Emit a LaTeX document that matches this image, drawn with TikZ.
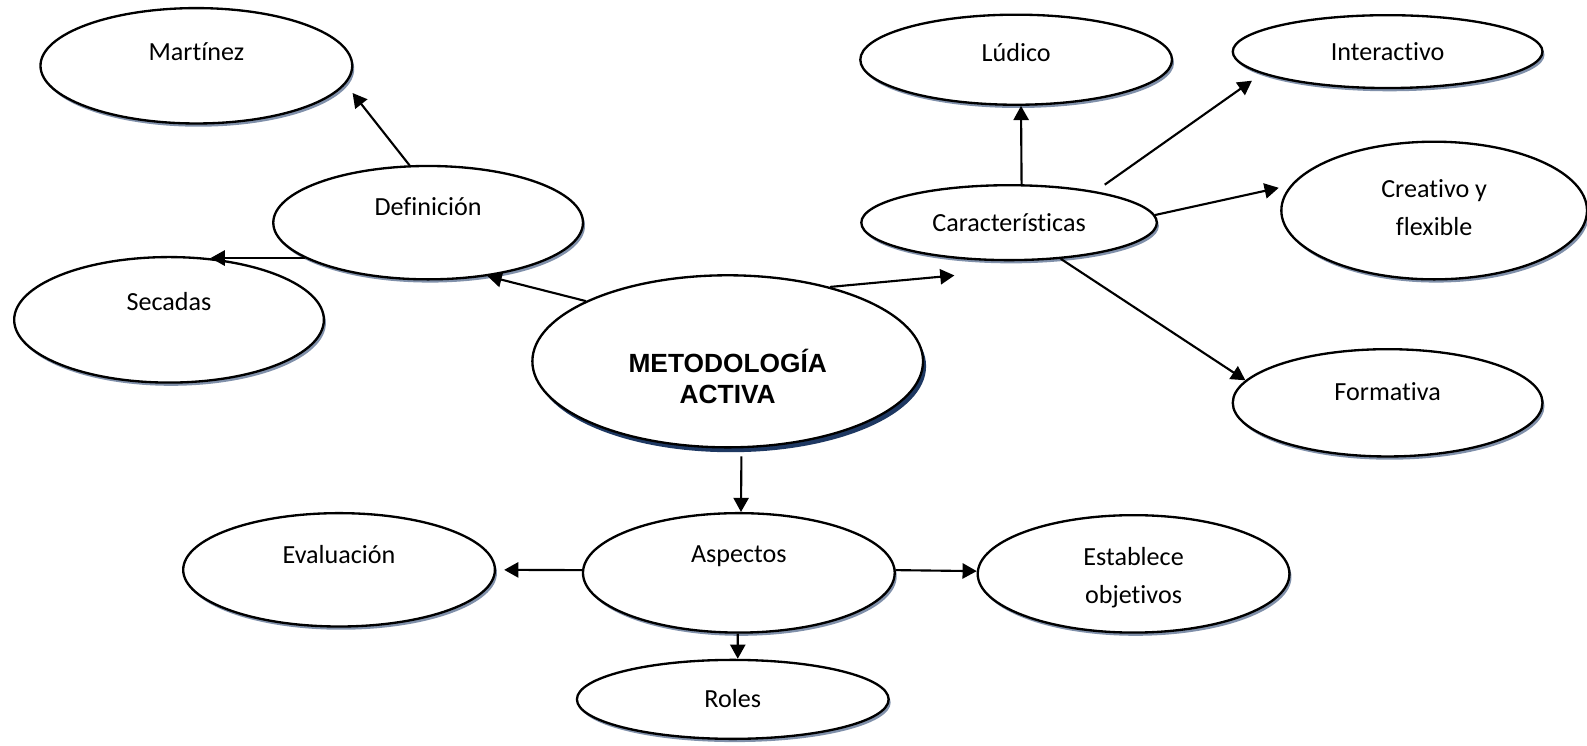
\documentclass[tikz,border=0pt]{standalone}
\usepackage{fontspec}
\setmainfont{Carlito}[Ligatures={NoCommon}]
\newfontfamily\arialfont{Liberation Sans}
\usetikzlibrary{shapes.geometric, arrows.meta, shadows, calc}
\definecolor{shadowc}{RGB}{128,144,170}
\definecolor{shadowd}{RGB}{30,56,98}
\begin{document}
\begin{tikzpicture}[x=0.5pt, y=-0.5pt,
  bubbase/.style={ellipse, draw=black, line width=1.15pt, fill=white, inner sep=0pt},
  bub/.style={bubbase, drop shadow={shadow xshift=1pt, shadow yshift=-1.6pt, fill=shadowc, opacity=1}},
  bigbub/.style={bubbase, drop shadow={shadow xshift=1.5pt, shadow yshift=-2.4pt, fill=shadowd, opacity=1}},
  lbl/.style={font=\fontsize{12.9}{19}\selectfont, align=center, inner sep=0pt},
  biglbl/.style={font=\arialfont\bfseries\fontsize{13}{15.5}\selectfont, align=center, inner sep=0pt},
  arr/.style={line width=1.05pt, -{Triangle[length=7pt,width=7.5pt]}}
]
\useasboundingbox (0,0) rectangle (1568,737);

% nodes
\node[bub, minimum width=154pt, minimum height=57pt, label={[lbl,yshift=7pt]center:Martínez}] (mar) at (194,65) {};
\node[bub, minimum width=153pt, minimum height=56pt, label={[lbl,yshift=8pt]center:Definición}] (def) at (423,220) {};
\node[bub, minimum width=153pt, minimum height=62pt, label={[lbl,yshift=9pt]center:Secadas}] (sec) at (167,316) {};
\node[bigbub, minimum width=193pt, minimum height=85pt, label={[biglbl,yshift=-7.5pt]center:{METODOLOGÍA\\ACTIVA}}] (met) at (719,357) {};
\node[bub, minimum width=146pt, minimum height=37pt, label={[lbl]center:Características}] (car) at (997,220) {};
\node[bub, minimum width=154pt, minimum height=44.5pt, label={[lbl,yshift=3.5pt]center:Lúdico}] (lud) at (1004,59) {};
\node[bub, minimum width=153pt, minimum height=36pt, label={[lbl]center:Interactivo}] (int) at (1371,51) {};
\node[bub, minimum width=151pt, minimum height=68pt, label={[lbl,yshift=1.5pt]center:{Creativo y\\flexible}}] (cre) at (1417,208) {};
\node[bub, minimum width=153pt, minimum height=53pt, label={[lbl,yshift=5.5pt]center:Formativa}] (form) at (1371,398) {};
\node[bub, minimum width=154pt, minimum height=59pt, label={[lbl,yshift=8pt]center:Aspectos}] (asp) at (730,566) {};
\node[bub, minimum width=154pt, minimum height=39pt, label={[lbl,yshift=0.5pt]center:Roles}] (rol) at (724,691) {};
\node[bub, minimum width=154pt, minimum height=56pt, label={[lbl,yshift=7.5pt]center:Evaluación}] (eva) at (335,563) {};
\node[bub, minimum width=154pt, minimum height=58pt, label={[lbl,yshift=-2pt]center:{Establece\\objetivos}}] (est) at (1120,567) {};

\coordinate (cartip) at ($(car.south)+(-54,14)$);

% connectors
\draw[arr, shorten >=5.6pt] (def.108) -- (mar.-7);
\draw[arr] (def.196) -- (sec.56 |- def.196);
\draw[arr] (met.157) -- (def.-42);
\draw[arr] (met.36) -- (cartip);
\draw[arr] (car.72) -- (lud.-84);
\draw[arr, shorten <=5.6pt, shorten >=5.9pt] (car.20) -- (int.-170);
\draw[arr, shorten >=6pt] (car.3) -- (cre.170);
\draw[arr] (car.-35) -- (form.171);
\draw[arr, shorten <=4pt] (met.-81) -- (asp.88);
\draw[arr, shorten >=4pt] (asp.179) -- (eva.east);
\draw[arr] (asp.1) -- (est.179);
\draw[arr] (asp.-91) -- (rol.83);
\end{tikzpicture}
\end{document}
